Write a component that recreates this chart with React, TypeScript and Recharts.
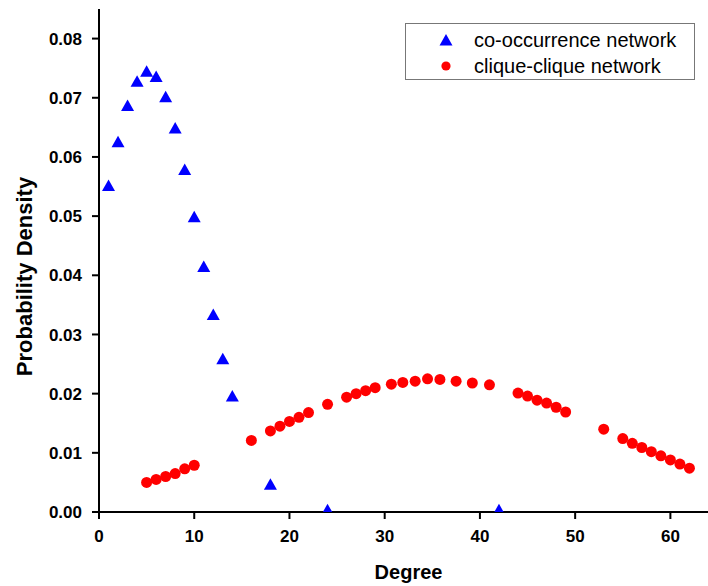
import React from 'react';
import { ScatterChart, Scatter, XAxis, YAxis } from 'recharts';

const seriesNames = ['co-occurrence network', 'clique-clique network'];

const coDegree = [1, 2, 3, 4, 5, 6, 7, 8, 9, 10, 11, 12, 13, 14, 18, 24, 42];
const coDensity = [0.0551, 0.0625, 0.0686, 0.0727, 0.0744, 0.0735, 0.0701, 0.0648, 0.0578, 0.0498, 0.0414, 0.0333, 0.0258, 0.0195, 0.0046, 0.0003, 0.0003];

const ccDegree = [5, 6, 7, 8, 9, 10, 16, 18, 19, 20, 21, 22, 24, 26, 27, 28, 29, 30.7, 31.9, 33.2, 34.5, 35.8, 37.5, 39.2, 41.0, 44, 45, 46, 47, 48, 49, 53, 55, 56, 57, 58, 59, 60, 61, 62];
const ccDensity = [0.0050, 0.0055, 0.0060, 0.0065, 0.0073, 0.0079, 0.0121, 0.0137, 0.0145, 0.0153, 0.0160, 0.0168, 0.0182, 0.0194, 0.0200, 0.0205, 0.0210, 0.0216, 0.0219, 0.0221, 0.0225, 0.0224, 0.0221, 0.0218, 0.0215, 0.0201, 0.0196, 0.0189, 0.0184, 0.0177, 0.0169, 0.0140, 0.0124, 0.0116, 0.0109, 0.0102, 0.0095, 0.0088, 0.0081, 0.0074];

const xDomain = [0, 65];
const yDomain = [0, 0.085];
const xMajorTicks = [0, 10, 20, 30, 40, 50, 60];
const xMinorTicks = [5, 15, 25, 35, 45, 55, 65];
const xTopTicks = [0, 5, 10, 15, 20, 25, 30, 35, 40, 45, 50, 55, 60, 65];
const yMajorTicks = [0, 0.01, 0.02, 0.03, 0.04, 0.05, 0.06, 0.07, 0.08];
const yMinorTicks = [0.005, 0.015, 0.025, 0.035, 0.045, 0.055, 0.065, 0.075];

const coData = coDegree.map((x, i) => ({ x, y: coDensity[i] }));
const ccData = ccDegree.map((x, i) => ({ x, y: ccDensity[i] }));

const FONT = '"Liberation Sans", Arial, sans-serif';
const BLUE = '#0000FF';
const RED = '#FF0000';

const axisLine = { stroke: '#000', strokeWidth: 2 };
const tickLine = { stroke: '#000', strokeWidth: 2 };
const tickStyle = { fill: '#000', fontSize: 17, fontWeight: 'bold', fontFamily: FONT };

const Triangle = (props: any) => {
  const { cx, cy } = props;
  if (cx == null || cy == null) return <g />;
  return <polygon points={`${cx},${cy - 6.5} ${cx - 6.5},${cy + 5} ${cx + 6.5},${cy + 5}`} fill={BLUE} />;
};

const Dot = (props: any) => {
  const { cx, cy } = props;
  if (cx == null || cy == null) return <g />;
  return <circle cx={cx} cy={cy} r={5.5} fill={RED} />;
};

const YTitle = (props: any) => {
  const vb = props.viewBox || { x: 0, y: 0, width: 0, height: 0 };
  const cx = vb.x + 24;
  const cy = vb.y + vb.height / 2 + 16;
  return (
    <text
      x={cx}
      y={cy}
      transform={`rotate(-90 ${cx} ${cy})`}
      textAnchor="middle"
      dominantBaseline="central"
      fill="#000"
      fontSize={22}
      fontWeight="bold"
      fontFamily={FONT}
    >
      Probability Density
    </text>
  );
};

const XTitle = (props: any) => {
  const vb = props.viewBox || { x: 0, y: 0, width: 0, height: 0 };
  const cx = vb.x + vb.width / 2;
  const cy = vb.y + 67;
  return (
    <text x={cx} y={cy} textAnchor="middle" fill="#000" fontSize={20} fontWeight="bold" fontFamily={FONT}>
      Degree
    </text>
  );
};

export default function App() {
  return (
    <div style={{ position: 'absolute', left: 0, top: 0, width: 708, height: 586, overflow: 'hidden', background: '#fff' }}>
      <ScatterChart width={720} height={586} margin={{ top: 9, right: 2, bottom: 0, left: 0 }}>
        <XAxis
          xAxisId="minor"
          type="number"
          dataKey="x"
          domain={xDomain}
          ticks={xMinorTicks}
          allowDataOverflow
          height={0}
          tickSize={4}
          tick={false}
          axisLine={axisLine}
          tickLine={tickLine}
        />
        <XAxis
          xAxisId="main"
          type="number"
          dataKey="x"
          domain={xDomain}
          ticks={xMajorTicks}
          allowDataOverflow
          height={74}
          tickSize={7}
          tickMargin={11}
          tick={tickStyle}
          axisLine={axisLine}
          tickLine={tickLine}
          label={<XTitle />}
        />
        <XAxis
          xAxisId="top"
          orientation="top"
          type="number"
          dataKey="x"
          domain={xDomain}
          ticks={xTopTicks}
          allowDataOverflow
          height={0}
          mirror
          tickSize={5}
          tick={false}
          axisLine={axisLine}
          tickLine={tickLine}
        />
        <YAxis
          yAxisId="minor"
          type="number"
          dataKey="y"
          domain={yDomain}
          ticks={yMinorTicks}
          allowDataOverflow
          width={0}
          tickSize={4}
          tick={false}
          axisLine={axisLine}
          tickLine={tickLine}
        />
        <YAxis
          yAxisId="main"
          type="number"
          dataKey="y"
          domain={yDomain}
          ticks={yMajorTicks}
          allowDataOverflow
          width={99}
          tickSize={7}
          tickMargin={10}
          tick={tickStyle}
          tickFormatter={(v: number) => v.toFixed(2)}
          axisLine={axisLine}
          tickLine={tickLine}
          label={<YTitle />}
        />
        <Scatter
          name={seriesNames[0]}
          data={coData}
          xAxisId="main"
          yAxisId="main"
          shape={<Triangle />}
          isAnimationActive={false}
        />
        <Scatter
          name={seriesNames[1]}
          data={ccData}
          xAxisId="main"
          yAxisId="main"
          shape={<Dot />}
          isAnimationActive={false}
        />
      </ScatterChart>
      <div
        style={{
          position: 'absolute',
          left: 405,
          top: 23,
          width: 290,
          height: 57,
          border: '1px solid #777',
          background: '#fff',
          boxSizing: 'border-box',
          fontFamily: FONT,
          fontSize: 20,
          color: '#000',
        }}
      >
        {seriesNames.map((name, i) => (
          <div key={name} style={{ position: 'absolute', left: 0, top: i === 0 ? 4 : 30, height: 24, display: 'flex', alignItems: 'center', whiteSpace: 'nowrap' }}>
            <svg width={68} height={24} style={{ display: 'block' }}>
              {i === 0 ? (
                <polygon points="40,6 33.5,17.5 46.5,17.5" fill={BLUE} />
              ) : (
                <circle cx={40} cy={12} r={4.6} fill={RED} />
              )}
            </svg>
            <span style={{ lineHeight: '24px' }}>{name}</span>
          </div>
        ))}
      </div>
    </div>
  );
}
